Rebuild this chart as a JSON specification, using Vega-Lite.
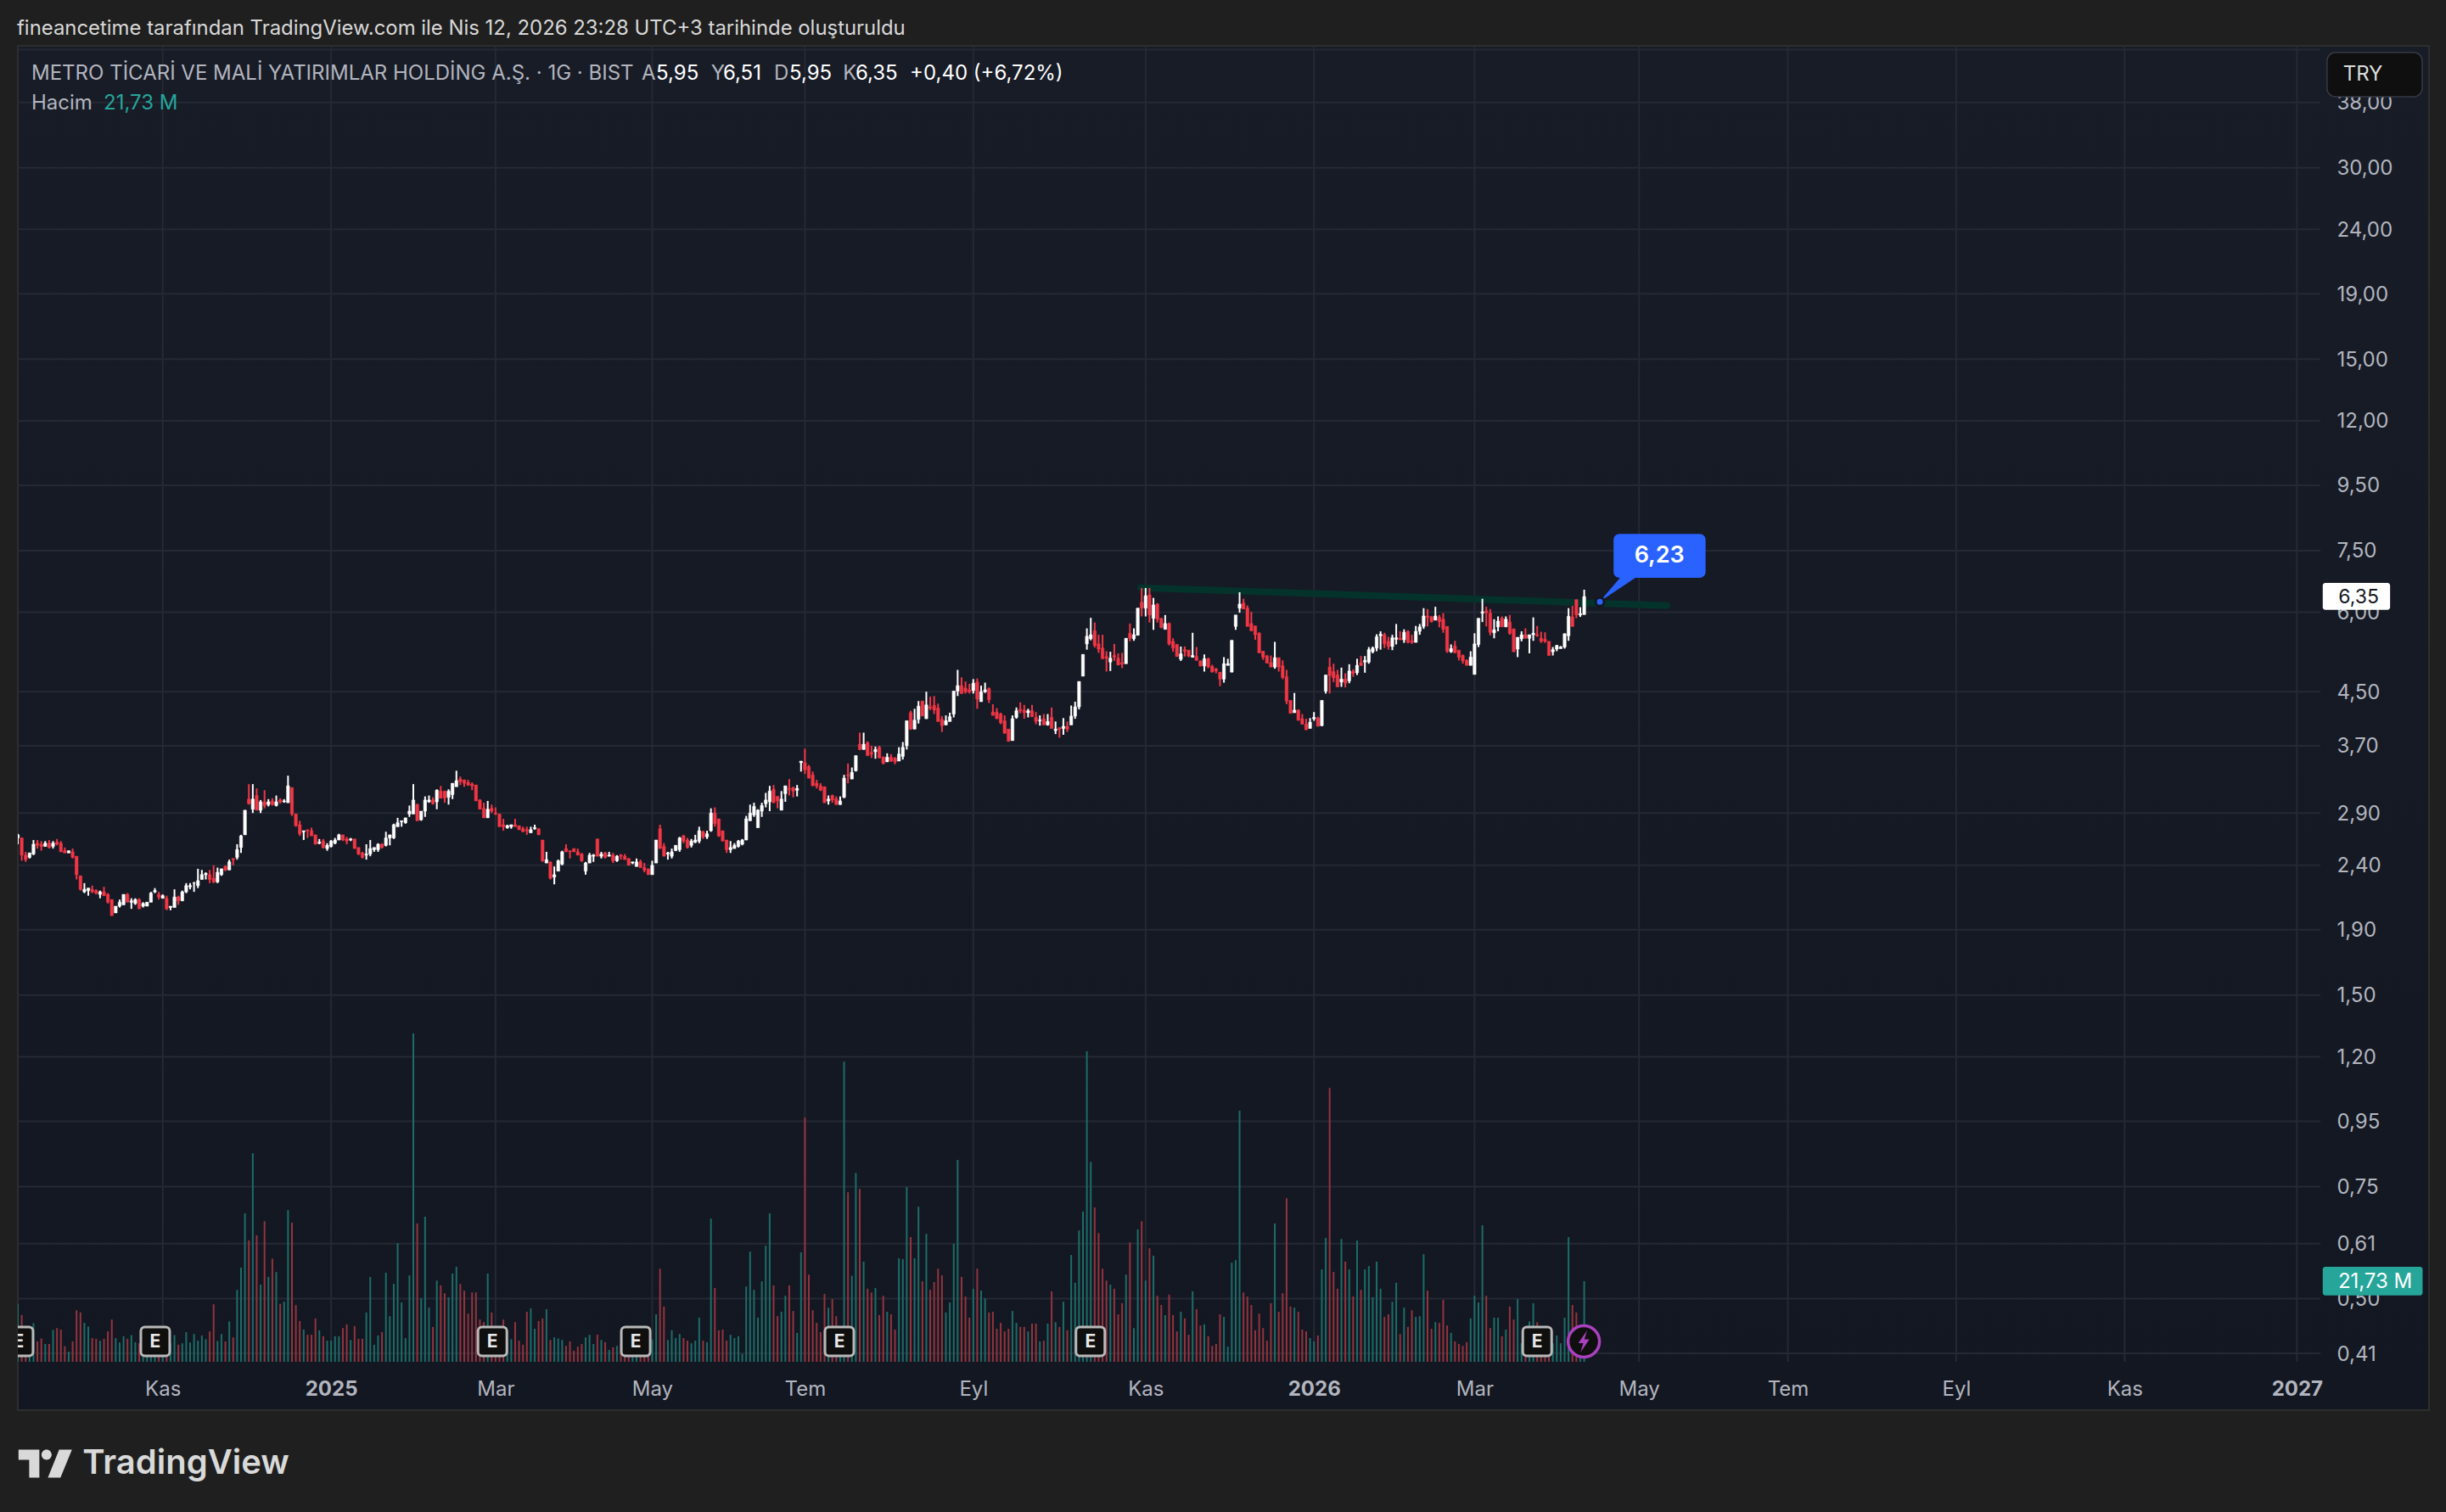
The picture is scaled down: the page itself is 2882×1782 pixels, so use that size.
{
"$schema":"https://vega.github.io/schema/vega-lite/v6.json",
"autosize":"none","width":2841,"height":1608,
"padding":{"left":21,"top":54,"right":20,"bottom":120},
"background":"#1f1f1f",
"config":{"view":{"fill":{"gradient":"linear","x1":0,"y1":0,"x2":0,"y2":1,"stops":[{"offset":0,"color":"#181c27"},{"offset":1,"color":"#131722"}]},"stroke":"#2e2e2e","strokeWidth":2},"font":"Inter"},
"title":{"text":"fineancetime tarafından TradingView.com ile Nis 12, 2026 23:28 UTC+3 tarihinde oluşturuldu","anchor":"start","frame":"group","offset":9,"dx":-1,"dy":7,"font":"Inter","fontSize":23.9,"fontWeight":"normal","color":"#d8d8d8"},
"datasets":{"bars":[
{"i":0,"o":2.65,"h":2.69,"l":2.59,"c":2.68,"v":15.6},{"i":1,"o":2.65,"h":2.65,"l":2.44,"c":2.49,"v":12.6},{"i":2,"o":2.49,"h":2.52,"l":2.43,"c":2.45,"v":6.1},{"i":3,"o":2.47,"h":2.51,"l":2.46,"c":2.51,"v":7.6},{"i":4,"o":2.5,"h":2.63,"l":2.49,"c":2.59,"v":10.4},{"i":5,"o":2.6,"h":2.63,"l":2.55,"c":2.58,"v":5.5},{"i":6,"o":2.59,"h":2.62,"l":2.53,"c":2.57,"v":6.3},{"i":7,"o":2.57,"h":2.62,"l":2.57,"c":2.6,"v":4.8},{"i":8,"o":2.6,"h":2.63,"l":2.55,"c":2.56,"v":4.8},{"i":9,"o":2.57,"h":2.62,"l":2.55,"c":2.6,"v":8.6},
{"i":10,"o":2.61,"h":2.64,"l":2.58,"c":2.59,"v":9.1},{"i":11,"o":2.6,"h":2.62,"l":2.52,"c":2.52,"v":8.7},{"i":12,"o":2.53,"h":2.56,"l":2.51,"c":2.51,"v":4.2},{"i":13,"o":2.51,"h":2.53,"l":2.51,"c":2.53,"v":2.7},{"i":14,"o":2.52,"h":2.55,"l":2.46,"c":2.47,"v":5.5},{"i":15,"o":2.48,"h":2.48,"l":2.28,"c":2.32,"v":13.9},{"i":16,"o":2.31,"h":2.31,"l":2.19,"c":2.2,"v":13.3},{"i":17,"o":2.18,"h":2.25,"l":2.17,"c":2.2,"v":10.5},{"i":18,"o":2.19,"h":2.21,"l":2.15,"c":2.21,"v":9.5},{"i":19,"o":2.2,"h":2.23,"l":2.17,"c":2.18,"v":6.4},
{"i":20,"o":2.19,"h":2.2,"l":2.16,"c":2.17,"v":6.2},{"i":21,"o":2.16,"h":2.19,"l":2.13,"c":2.18,"v":5.7},{"i":22,"o":2.18,"h":2.22,"l":2.15,"c":2.15,"v":6.2},{"i":23,"o":2.16,"h":2.17,"l":2.09,"c":2.1,"v":8.2},{"i":24,"o":2.12,"h":2.12,"l":2.0,"c":2.0,"v":11.4},{"i":25,"o":2.02,"h":2.07,"l":2.02,"c":2.07,"v":6.4},{"i":26,"o":2.07,"h":2.12,"l":2.06,"c":2.1,"v":5.2},{"i":27,"o":2.08,"h":2.16,"l":2.08,"c":2.16,"v":6.9},{"i":28,"o":2.16,"h":2.17,"l":2.1,"c":2.1,"v":6.2},{"i":29,"o":2.1,"h":2.13,"l":2.05,"c":2.11,"v":7.2},
{"i":30,"o":2.09,"h":2.13,"l":2.08,"c":2.12,"v":5.3},{"i":31,"o":2.12,"h":2.13,"l":2.05,"c":2.05,"v":5.0},{"i":32,"o":2.07,"h":2.1,"l":2.06,"c":2.09,"v":4},{"i":33,"o":2.07,"h":2.1,"l":2.07,"c":2.1,"v":4},{"i":34,"o":2.1,"h":2.18,"l":2.1,"c":2.17,"v":5},{"i":35,"o":2.18,"h":2.21,"l":2.17,"c":2.19,"v":5},{"i":36,"o":2.16,"h":2.18,"l":2.12,"c":2.14,"v":4},{"i":37,"o":2.13,"h":2.16,"l":2.13,"c":2.15,"v":4},{"i":38,"o":2.13,"h":2.15,"l":2.04,"c":2.05,"v":5},{"i":39,"o":2.06,"h":2.07,"l":2.04,"c":2.07,"v":5},
{"i":40,"o":2.06,"h":2.2,"l":2.06,"c":2.14,"v":7.2},{"i":41,"o":2.14,"h":2.15,"l":2.08,"c":2.11,"v":4.6},{"i":42,"o":2.11,"h":2.19,"l":2.11,"c":2.18,"v":5.0},{"i":43,"o":2.18,"h":2.25,"l":2.17,"c":2.23,"v":8.0},{"i":44,"o":2.22,"h":2.25,"l":2.2,"c":2.23,"v":5.2},{"i":45,"o":2.25,"h":2.26,"l":2.18,"c":2.25,"v":7.5},{"i":46,"o":2.23,"h":2.37,"l":2.21,"c":2.27,"v":5.7},{"i":47,"o":2.28,"h":2.36,"l":2.28,"c":2.32,"v":7.1},{"i":48,"o":2.32,"h":2.34,"l":2.28,"c":2.33,"v":6.1},{"i":49,"o":2.32,"h":2.36,"l":2.25,"c":2.28,"v":8.2},
{"i":50,"o":2.29,"h":2.4,"l":2.25,"c":2.26,"v":15.5},{"i":51,"o":2.26,"h":2.38,"l":2.25,"c":2.34,"v":5.6},{"i":52,"o":2.32,"h":2.37,"l":2.31,"c":2.37,"v":7.5},{"i":53,"o":2.39,"h":2.4,"l":2.35,"c":2.36,"v":5.5},{"i":54,"o":2.36,"h":2.45,"l":2.36,"c":2.43,"v":10.9},{"i":55,"o":2.46,"h":2.46,"l":2.4,"c":2.45,"v":6.6},{"i":56,"o":2.47,"h":2.59,"l":2.45,"c":2.54,"v":19.4},{"i":57,"o":2.56,"h":2.68,"l":2.51,"c":2.67,"v":25.4},{"i":58,"o":2.68,"h":2.93,"l":2.68,"c":2.93,"v":40.0},{"i":59,"o":3.05,"h":3.22,"l":2.99,"c":3.0,"v":32.7},
{"i":60,"o":2.94,"h":3.22,"l":2.9,"c":3.05,"v":56.2},{"i":61,"o":3.09,"h":3.17,"l":2.93,"c":2.93,"v":34.1},{"i":62,"o":2.93,"h":3.04,"l":2.9,"c":3.02,"v":20.8},{"i":63,"o":3.02,"h":3.15,"l":2.95,"c":2.98,"v":37.9},{"i":64,"o":2.99,"h":3.05,"l":2.97,"c":3.02,"v":22.9},{"i":65,"o":3.03,"h":3.06,"l":2.98,"c":2.99,"v":27.8},{"i":66,"o":2.98,"h":3.09,"l":2.97,"c":3.02,"v":24.2},{"i":67,"o":3.04,"h":3.06,"l":3.0,"c":3.02,"v":15.6},{"i":68,"o":3.02,"h":3.05,"l":3.01,"c":3.03,"v":16.2},{"i":69,"o":3.01,"h":3.32,"l":3.01,"c":3.2,"v":40.9},
{"i":70,"o":3.18,"h":3.18,"l":2.87,"c":2.89,"v":37.5},{"i":71,"o":2.89,"h":2.89,"l":2.76,"c":2.77,"v":15.3},{"i":72,"o":2.78,"h":2.82,"l":2.67,"c":2.69,"v":11.0},{"i":73,"o":2.71,"h":2.72,"l":2.63,"c":2.72,"v":8.7},{"i":74,"o":2.73,"h":2.73,"l":2.65,"c":2.72,"v":7.3},{"i":75,"o":2.72,"h":2.75,"l":2.67,"c":2.67,"v":7.3},{"i":76,"o":2.68,"h":2.68,"l":2.59,"c":2.59,"v":11.7},{"i":77,"o":2.6,"h":2.64,"l":2.59,"c":2.61,"v":8.5},{"i":78,"o":2.62,"h":2.64,"l":2.55,"c":2.56,"v":6.9},{"i":79,"o":2.55,"h":2.6,"l":2.53,"c":2.58,"v":5.7},
{"i":80,"o":2.57,"h":2.63,"l":2.56,"c":2.62,"v":5.7},{"i":81,"o":2.6,"h":2.65,"l":2.59,"c":2.63,"v":6.9},{"i":82,"o":2.63,"h":2.69,"l":2.63,"c":2.68,"v":6.9},{"i":83,"o":2.68,"h":2.68,"l":2.62,"c":2.63,"v":9.1},{"i":84,"o":2.64,"h":2.66,"l":2.59,"c":2.62,"v":10.1},{"i":85,"o":2.63,"h":2.65,"l":2.62,"c":2.64,"v":5.9},{"i":86,"o":2.64,"h":2.64,"l":2.55,"c":2.55,"v":9.6},{"i":87,"o":2.56,"h":2.56,"l":2.49,"c":2.5,"v":6.2},{"i":88,"o":2.51,"h":2.52,"l":2.46,"c":2.47,"v":6.2},{"i":89,"o":2.49,"h":2.59,"l":2.45,"c":2.5,"v":13.3},
{"i":90,"o":2.5,"h":2.63,"l":2.48,"c":2.55,"v":22.9},{"i":91,"o":2.54,"h":2.56,"l":2.52,"c":2.56,"v":4.6},{"i":92,"o":2.54,"h":2.6,"l":2.52,"c":2.59,"v":7.1},{"i":93,"o":2.59,"h":2.6,"l":2.55,"c":2.56,"v":8.0},{"i":94,"o":2.58,"h":2.71,"l":2.57,"c":2.65,"v":24.0},{"i":95,"o":2.65,"h":2.68,"l":2.58,"c":2.68,"v":12.3},{"i":96,"o":2.65,"h":2.79,"l":2.64,"c":2.78,"v":21.0},{"i":97,"o":2.76,"h":2.85,"l":2.76,"c":2.8,"v":32.0},{"i":98,"o":2.81,"h":2.82,"l":2.76,"c":2.82,"v":16.0},{"i":99,"o":2.8,"h":2.85,"l":2.79,"c":2.85,"v":6.4},
{"i":100,"o":2.89,"h":2.98,"l":2.86,"c":2.92,"v":23.3},{"i":101,"o":2.89,"h":3.22,"l":2.89,"c":3.04,"v":88.5},{"i":102,"o":2.99,"h":3.0,"l":2.82,"c":2.82,"v":37.3},{"i":103,"o":2.83,"h":2.92,"l":2.82,"c":2.92,"v":17.1},{"i":104,"o":2.92,"h":3.08,"l":2.86,"c":3.04,"v":39.1},{"i":105,"o":3.02,"h":3.09,"l":3.01,"c":3.04,"v":14.6},{"i":106,"o":3.04,"h":3.07,"l":2.99,"c":3.0,"v":9.4},{"i":107,"o":3.02,"h":3.16,"l":2.94,"c":3.15,"v":21.9},{"i":108,"o":3.14,"h":3.2,"l":3.06,"c":3.06,"v":20.6},{"i":109,"o":3.14,"h":3.14,"l":3.01,"c":3.06,"v":18.5},
{"i":110,"o":3.07,"h":3.16,"l":2.99,"c":3.14,"v":17.4},{"i":111,"o":3.1,"h":3.23,"l":3.05,"c":3.23,"v":23.8},{"i":112,"o":3.19,"h":3.38,"l":3.19,"c":3.26,"v":25.6},{"i":113,"o":3.28,"h":3.31,"l":3.21,"c":3.25,"v":21.0},{"i":114,"o":3.27,"h":3.27,"l":3.19,"c":3.23,"v":19.2},{"i":115,"o":3.24,"h":3.27,"l":3.2,"c":3.21,"v":13.0},{"i":116,"o":3.22,"h":3.24,"l":3.15,"c":3.2,"v":18.7},{"i":117,"o":3.21,"h":3.21,"l":3.03,"c":3.03,"v":18.7},{"i":118,"o":3.04,"h":3.05,"l":2.94,"c":2.94,"v":11.4},{"i":119,"o":2.95,"h":3.01,"l":2.85,"c":2.85,"v":10.7},
{"i":120,"o":2.85,"h":3.03,"l":2.85,"c":2.94,"v":23.8},{"i":121,"o":2.95,"h":2.99,"l":2.9,"c":2.92,"v":13.3},{"i":122,"o":2.9,"h":2.96,"l":2.88,"c":2.89,"v":8},{"i":123,"o":2.89,"h":2.89,"l":2.76,"c":2.76,"v":8},{"i":124,"o":2.78,"h":2.84,"l":2.72,"c":2.76,"v":11.4},{"i":125,"o":2.75,"h":2.78,"l":2.74,"c":2.77,"v":6},{"i":126,"o":2.76,"h":2.78,"l":2.74,"c":2.78,"v":6.1},{"i":127,"o":2.78,"h":2.84,"l":2.76,"c":2.76,"v":10.7},{"i":128,"o":2.77,"h":2.77,"l":2.73,"c":2.73,"v":5.7},{"i":129,"o":2.74,"h":2.76,"l":2.71,"c":2.71,"v":4.6},
{"i":130,"o":2.73,"h":2.76,"l":2.68,"c":2.72,"v":13.5},{"i":131,"o":2.7,"h":2.76,"l":2.7,"c":2.73,"v":14.4},{"i":132,"o":2.74,"h":2.78,"l":2.73,"c":2.75,"v":8.9},{"i":133,"o":2.74,"h":2.74,"l":2.68,"c":2.68,"v":11.0},{"i":134,"o":2.63,"h":2.63,"l":2.43,"c":2.44,"v":11.7},{"i":135,"o":2.42,"h":2.52,"l":2.42,"c":2.45,"v":14.2},{"i":136,"o":2.43,"h":2.43,"l":2.28,"c":2.29,"v":5.9},{"i":137,"o":2.3,"h":2.39,"l":2.24,"c":2.32,"v":6.6},{"i":138,"o":2.35,"h":2.45,"l":2.35,"c":2.44,"v":6.3},{"i":139,"o":2.41,"h":2.53,"l":2.4,"c":2.52,"v":5.9},
{"i":140,"o":2.55,"h":2.59,"l":2.52,"c":2.52,"v":4.3},{"i":141,"o":2.53,"h":2.53,"l":2.46,"c":2.52,"v":5.5},{"i":142,"o":2.55,"h":2.55,"l":2.52,"c":2.52,"v":3.0},{"i":143,"o":2.52,"h":2.55,"l":2.49,"c":2.49,"v":4.1},{"i":144,"o":2.5,"h":2.51,"l":2.43,"c":2.44,"v":4.8},{"i":145,"o":2.35,"h":2.43,"l":2.32,"c":2.42,"v":6.6},{"i":146,"o":2.42,"h":2.51,"l":2.42,"c":2.49,"v":7.3},{"i":147,"o":2.48,"h":2.5,"l":2.43,"c":2.49,"v":4.8},{"i":148,"o":2.64,"h":2.64,"l":2.48,"c":2.48,"v":7.3},{"i":149,"o":2.48,"h":2.52,"l":2.46,"c":2.5,"v":5.9},
{"i":150,"o":2.51,"h":2.52,"l":2.46,"c":2.47,"v":5.3},{"i":151,"o":2.48,"h":2.52,"l":2.48,"c":2.49,"v":3.2},{"i":152,"o":2.49,"h":2.51,"l":2.42,"c":2.44,"v":3.9},{"i":153,"o":2.44,"h":2.49,"l":2.43,"c":2.48,"v":4.3},{"i":154,"o":2.49,"h":2.5,"l":2.45,"c":2.48,"v":5},{"i":155,"o":2.48,"h":2.5,"l":2.45,"c":2.45,"v":5},{"i":156,"o":2.46,"h":2.46,"l":2.4,"c":2.4,"v":4},{"i":157,"o":2.42,"h":2.43,"l":2.41,"c":2.43,"v":4},{"i":158,"o":2.39,"h":2.46,"l":2.39,"c":2.43,"v":4},{"i":159,"o":2.43,"h":2.45,"l":2.38,"c":2.38,"v":4},
{"i":160,"o":2.38,"h":2.42,"l":2.34,"c":2.36,"v":4},{"i":161,"o":2.37,"h":2.37,"l":2.32,"c":2.32,"v":5},{"i":162,"o":2.32,"h":2.44,"l":2.32,"c":2.4,"v":6},{"i":163,"o":2.42,"h":2.63,"l":2.42,"c":2.63,"v":12.8},{"i":164,"o":2.74,"h":2.78,"l":2.55,"c":2.55,"v":25.1},{"i":165,"o":2.57,"h":2.6,"l":2.48,"c":2.48,"v":14.9},{"i":166,"o":2.5,"h":2.52,"l":2.45,"c":2.51,"v":5.9},{"i":167,"o":2.48,"h":2.55,"l":2.46,"c":2.52,"v":8.5},{"i":168,"o":2.53,"h":2.58,"l":2.53,"c":2.58,"v":6.4},{"i":169,"o":2.54,"h":2.66,"l":2.52,"c":2.65,"v":7.5},
{"i":170,"o":2.67,"h":2.68,"l":2.6,"c":2.62,"v":6.4},{"i":171,"o":2.63,"h":2.65,"l":2.55,"c":2.56,"v":5.7},{"i":172,"o":2.58,"h":2.64,"l":2.56,"c":2.62,"v":5.0},{"i":173,"o":2.61,"h":2.68,"l":2.6,"c":2.63,"v":5.7},{"i":174,"o":2.62,"h":2.76,"l":2.6,"c":2.72,"v":11.9},{"i":175,"o":2.71,"h":2.72,"l":2.64,"c":2.66,"v":5.7},{"i":176,"o":2.66,"h":2.72,"l":2.64,"c":2.69,"v":5.3},{"i":177,"o":2.72,"h":2.95,"l":2.71,"c":2.9,"v":38.6},{"i":178,"o":2.9,"h":2.96,"l":2.76,"c":2.79,"v":19.9},{"i":179,"o":2.84,"h":2.84,"l":2.66,"c":2.67,"v":8.5},
{"i":180,"o":2.72,"h":2.72,"l":2.62,"c":2.62,"v":8.7},{"i":181,"o":2.63,"h":2.63,"l":2.51,"c":2.54,"v":5.7},{"i":182,"o":2.54,"h":2.62,"l":2.51,"c":2.56,"v":7.3},{"i":183,"o":2.55,"h":2.6,"l":2.55,"c":2.58,"v":6.4},{"i":184,"o":2.57,"h":2.63,"l":2.56,"c":2.62,"v":6.9},{"i":185,"o":2.59,"h":2.64,"l":2.58,"c":2.63,"v":2.1},{"i":186,"o":2.63,"h":2.87,"l":2.63,"c":2.84,"v":20.3},{"i":187,"o":2.82,"h":2.99,"l":2.82,"c":2.9,"v":29.7},{"i":188,"o":2.88,"h":3.01,"l":2.86,"c":2.97,"v":19.4},{"i":189,"o":2.75,"h":2.94,"l":2.75,"c":2.93,"v":11.9},
{"i":190,"o":2.92,"h":3.01,"l":2.86,"c":2.98,"v":21.7},{"i":191,"o":3.0,"h":3.12,"l":2.96,"c":3.04,"v":31.3},{"i":192,"o":3.02,"h":3.2,"l":2.92,"c":3.14,"v":40.0},{"i":193,"o":3.16,"h":3.21,"l":3.01,"c":3.01,"v":20.6},{"i":194,"o":3.08,"h":3.08,"l":2.95,"c":3.03,"v":12.3},{"i":195,"o":2.93,"h":3.14,"l":2.93,"c":3.05,"v":13.5},{"i":196,"o":3.11,"h":3.2,"l":3.02,"c":3.2,"v":17.8},{"i":197,"o":3.17,"h":3.28,"l":3.09,"c":3.16,"v":20.6},{"i":198,"o":3.18,"h":3.19,"l":3.07,"c":3.14,"v":13.7},{"i":199,"o":3.15,"h":3.21,"l":3.08,"c":3.17,"v":7.8},
{"i":200,"o":3.48,"h":3.5,"l":3.37,"c":3.5,"v":29.5},{"i":201,"o":3.48,"h":3.66,"l":3.34,"c":3.39,"v":65.8},{"i":202,"o":3.43,"h":3.45,"l":3.29,"c":3.29,"v":23.5},{"i":203,"o":3.33,"h":3.37,"l":3.2,"c":3.2,"v":13.9},{"i":204,"o":3.23,"h":3.27,"l":3.17,"c":3.2,"v":10.5},{"i":205,"o":3.2,"h":3.23,"l":3.14,"c":3.15,"v":8.0},{"i":206,"o":3.19,"h":3.19,"l":3.01,"c":3.01,"v":18.3},{"i":207,"o":3.03,"h":3.09,"l":2.99,"c":3.05,"v":14.6},{"i":208,"o":3.09,"h":3.1,"l":3.01,"c":3.04,"v":16.9},{"i":209,"o":3.05,"h":3.08,"l":2.99,"c":2.99,"v":12.3},
{"i":210,"o":2.99,"h":3.08,"l":2.99,"c":3.03,"v":9.5},{"i":211,"o":3.07,"h":3.33,"l":3.06,"c":3.29,"v":80.9},{"i":212,"o":3.33,"h":3.47,"l":3.23,"c":3.32,"v":45.7},{"i":213,"o":3.28,"h":3.42,"l":3.28,"c":3.36,"v":23.2},{"i":214,"o":3.38,"h":3.57,"l":3.37,"c":3.57,"v":50.9},{"i":215,"o":3.72,"h":3.88,"l":3.64,"c":3.65,"v":46.6},{"i":216,"o":3.65,"h":3.88,"l":3.65,"c":3.72,"v":27.0},{"i":217,"o":3.74,"h":3.76,"l":3.57,"c":3.57,"v":19.7},{"i":218,"o":3.61,"h":3.7,"l":3.54,"c":3.59,"v":18.7},{"i":219,"o":3.62,"h":3.69,"l":3.53,"c":3.65,"v":19.9},
{"i":220,"o":3.68,"h":3.7,"l":3.54,"c":3.54,"v":12.6},{"i":221,"o":3.55,"h":3.56,"l":3.46,"c":3.47,"v":17.8},{"i":222,"o":3.49,"h":3.6,"l":3.49,"c":3.55,"v":13.5},{"i":223,"o":3.55,"h":3.59,"l":3.49,"c":3.5,"v":12.8},{"i":224,"o":3.54,"h":3.55,"l":3.46,"c":3.49,"v":8.7},{"i":225,"o":3.5,"h":3.68,"l":3.5,"c":3.59,"v":27.9},{"i":226,"o":3.56,"h":3.75,"l":3.52,"c":3.68,"v":27.7},{"i":227,"o":3.7,"h":4.05,"l":3.65,"c":4.05,"v":47.1},{"i":228,"o":4.17,"h":4.2,"l":3.92,"c":3.93,"v":33.6},{"i":229,"o":3.93,"h":4.23,"l":3.93,"c":4.06,"v":27.9},
{"i":230,"o":4.07,"h":4.35,"l":4.01,"c":4.27,"v":41.8},{"i":231,"o":4.35,"h":4.35,"l":4.12,"c":4.12,"v":21.7},{"i":232,"o":4.08,"h":4.5,"l":4.08,"c":4.29,"v":34.5},{"i":233,"o":4.26,"h":4.42,"l":4.21,"c":4.24,"v":19.4},{"i":234,"o":4.28,"h":4.43,"l":4.15,"c":4.21,"v":21.5},{"i":235,"o":4.24,"h":4.31,"l":4.04,"c":4.04,"v":25.1},{"i":236,"o":4.07,"h":4.12,"l":3.89,"c":3.98,"v":23.3},{"i":237,"o":3.99,"h":4.13,"l":3.99,"c":4.05,"v":13.3},{"i":238,"o":4.04,"h":4.17,"l":4.04,"c":4.11,"v":16.0},{"i":239,"o":4.15,"h":4.51,"l":4.1,"c":4.51,"v":31.8},
{"i":240,"o":4.51,"h":4.87,"l":4.43,"c":4.6,"v":54.4},{"i":241,"o":4.6,"h":4.74,"l":4.47,"c":4.47,"v":22.9},{"i":242,"o":4.56,"h":4.67,"l":4.47,"c":4.5,"v":17.6},{"i":243,"o":4.53,"h":4.63,"l":4.47,"c":4.5,"v":11.9},{"i":244,"o":4.52,"h":4.71,"l":4.47,"c":4.64,"v":19.7},{"i":245,"o":4.66,"h":4.72,"l":4.23,"c":4.38,"v":25.1},{"i":246,"o":4.34,"h":4.6,"l":4.34,"c":4.5,"v":19.2},{"i":247,"o":4.5,"h":4.65,"l":4.48,"c":4.53,"v":17.1},{"i":248,"o":4.55,"h":4.57,"l":4.32,"c":4.37,"v":13.3},{"i":249,"o":4.18,"h":4.3,"l":4.13,"c":4.13,"v":13.5},
{"i":250,"o":4.18,"h":4.24,"l":4.08,"c":4.08,"v":8.9},{"i":251,"o":4.15,"h":4.17,"l":4.0,"c":4.02,"v":10.5},{"i":252,"o":4.05,"h":4.13,"l":3.87,"c":3.87,"v":8.2},{"i":253,"o":3.93,"h":3.93,"l":3.76,"c":3.76,"v":8.9},{"i":254,"o":3.77,"h":4.13,"l":3.77,"c":4.08,"v":13.7},{"i":255,"o":4.1,"h":4.25,"l":4.08,"c":4.2,"v":10.5},{"i":256,"o":4.22,"h":4.33,"l":4.16,"c":4.2,"v":9.4},{"i":257,"o":4.21,"h":4.29,"l":4.08,"c":4.17,"v":9.4},{"i":258,"o":4.17,"h":4.23,"l":4.1,"c":4.2,"v":8.2},{"i":259,"o":4.2,"h":4.29,"l":4.11,"c":4.11,"v":10.3},
{"i":260,"o":4.1,"h":4.18,"l":4.0,"c":4.04,"v":10.3},{"i":261,"o":4.05,"h":4.13,"l":3.98,"c":4.06,"v":5.5},{"i":262,"o":4.08,"h":4.15,"l":3.99,"c":3.99,"v":5.7},{"i":263,"o":3.99,"h":4.15,"l":3.98,"c":4.04,"v":10.3},{"i":264,"o":4.1,"h":4.25,"l":3.94,"c":3.94,"v":19.0},{"i":265,"o":3.91,"h":4.04,"l":3.86,"c":3.93,"v":10.7},{"i":266,"o":3.95,"h":3.95,"l":3.81,"c":3.93,"v":9.4},{"i":267,"o":3.94,"h":4.09,"l":3.85,"c":3.97,"v":16.2},{"i":268,"o":3.97,"h":4.04,"l":3.89,"c":3.93,"v":8.5},{"i":269,"o":3.99,"h":4.28,"l":3.99,"c":4.12,"v":28.8},
{"i":270,"o":4.12,"h":4.34,"l":4.08,"c":4.26,"v":21.3},{"i":271,"o":4.26,"h":4.67,"l":4.22,"c":4.67,"v":35.4},{"i":272,"o":4.76,"h":5.15,"l":4.76,"c":5.15,"v":40.5},{"i":273,"o":5.35,"h":5.66,"l":5.24,"c":5.5,"v":83.7},{"i":274,"o":5.45,"h":5.88,"l":5.42,"c":5.53,"v":53.9},{"i":275,"o":5.61,"h":5.78,"l":5.28,"c":5.32,"v":41.6},{"i":276,"o":5.35,"h":5.53,"l":5.18,"c":5.25,"v":34.7},{"i":277,"o":5.27,"h":5.53,"l":5.07,"c":5.07,"v":25.1},{"i":278,"o":5.11,"h":5.21,"l":4.84,"c":5.08,"v":21.9},{"i":279,"o":5.01,"h":5.2,"l":4.85,"c":5.08,"v":20.8},
{"i":280,"o":5.13,"h":5.35,"l":5.03,"c":5.1,"v":19.7},{"i":281,"o":5.08,"h":5.17,"l":4.95,"c":4.96,"v":12.8},{"i":282,"o":5.0,"h":5.18,"l":4.9,"c":4.97,"v":15.8},{"i":283,"o":4.98,"h":5.46,"l":4.98,"c":5.46,"v":23.5},{"i":284,"o":5.56,"h":5.76,"l":5.4,"c":5.46,"v":32.2},{"i":285,"o":5.45,"h":5.66,"l":5.41,"c":5.53,"v":9.1},{"i":286,"o":5.52,"h":6.09,"l":5.52,"c":6.09,"v":35.7},{"i":287,"o":6.22,"h":6.55,"l":5.91,"c":6.09,"v":37.9},{"i":288,"o":6.09,"h":6.55,"l":5.91,"c":6.37,"v":21.9},{"i":289,"o":6.39,"h":6.55,"l":5.78,"c":5.94,"v":30.6},
{"i":290,"o":5.87,"h":6.32,"l":5.63,"c":6.16,"v":28.6},{"i":291,"o":6.18,"h":6.2,"l":5.78,"c":5.85,"v":17.8},{"i":292,"o":5.87,"h":5.87,"l":5.66,"c":5.68,"v":15.3},{"i":293,"o":5.64,"h":5.94,"l":5.64,"c":5.76,"v":12.6},{"i":294,"o":5.76,"h":5.78,"l":5.32,"c":5.35,"v":18.1},{"i":295,"o":5.4,"h":5.46,"l":5.2,"c":5.27,"v":12.6},{"i":296,"o":5.34,"h":5.34,"l":5.11,"c":5.11,"v":8.2},{"i":297,"o":5.06,"h":5.3,"l":5.03,"c":5.16,"v":13.5},{"i":298,"o":5.24,"h":5.3,"l":5.11,"c":5.21,"v":11.7},{"i":299,"o":5.23,"h":5.23,"l":5.1,"c":5.12,"v":7.3},
{"i":300,"o":5.1,"h":5.57,"l":5.09,"c":5.13,"v":19.0},{"i":301,"o":5.11,"h":5.29,"l":5.04,"c":5.04,"v":14.2},{"i":302,"o":5.03,"h":5.04,"l":4.93,"c":4.94,"v":9.8},{"i":303,"o":4.94,"h":5.15,"l":4.84,"c":5.07,"v":10.1},{"i":304,"o":5.07,"h":5.09,"l":4.9,"c":4.92,"v":6.9},{"i":305,"o":4.93,"h":4.96,"l":4.83,"c":4.83,"v":4.3},{"i":306,"o":4.89,"h":4.9,"l":4.81,"c":4.85,"v":4.8},{"i":307,"o":4.83,"h":4.83,"l":4.59,"c":4.71,"v":12.8},{"i":308,"o":4.71,"h":5.1,"l":4.65,"c":4.98,"v":12.1},{"i":309,"o":4.95,"h":5.07,"l":4.95,"c":4.98,"v":4.1},
{"i":310,"o":4.83,"h":5.42,"l":4.83,"c":5.42,"v":26.7},{"i":311,"o":5.7,"h":5.94,"l":5.63,"c":5.94,"v":27.4},{"i":312,"o":6.09,"h":6.45,"l":5.99,"c":6.18,"v":67.7},{"i":313,"o":6.2,"h":6.3,"l":6.07,"c":6.07,"v":18.7},{"i":314,"o":6.09,"h":6.15,"l":5.7,"c":5.7,"v":17.6},{"i":315,"o":5.76,"h":6.01,"l":5.6,"c":5.61,"v":15.3},{"i":316,"o":5.71,"h":5.71,"l":5.43,"c":5.53,"v":8.5},{"i":317,"o":5.56,"h":5.58,"l":5.18,"c":5.18,"v":13.0},{"i":318,"o":5.21,"h":5.21,"l":5.05,"c":5.1,"v":9.1},{"i":319,"o":5.12,"h":5.14,"l":4.99,"c":4.99,"v":5.7},
{"i":320,"o":5.0,"h":5.13,"l":4.92,"c":4.92,"v":15.8},{"i":321,"o":4.92,"h":5.39,"l":4.89,"c":5.09,"v":37.3},{"i":322,"o":5.09,"h":5.09,"l":4.84,"c":4.92,"v":13.5},{"i":323,"o":4.94,"h":5.04,"l":4.71,"c":4.74,"v":18.5},{"i":324,"o":4.75,"h":4.87,"l":4.3,"c":4.35,"v":44.1},{"i":325,"o":4.36,"h":4.36,"l":4.16,"c":4.16,"v":14.9},{"i":326,"o":4.17,"h":4.48,"l":4.17,"c":4.21,"v":14.6},{"i":327,"o":4.21,"h":4.22,"l":4.05,"c":4.06,"v":13.5},{"i":328,"o":4.08,"h":4.15,"l":4.0,"c":4.0,"v":8.7},{"i":329,"o":4.0,"h":4.08,"l":3.92,"c":3.92,"v":8.2},
{"i":330,"o":3.94,"h":4.09,"l":3.94,"c":4.03,"v":6.4},{"i":331,"o":4.08,"h":4.18,"l":4.05,"c":4.1,"v":5.5},{"i":332,"o":4.09,"h":4.11,"l":3.97,"c":3.97,"v":7.1},{"i":333,"o":3.98,"h":4.36,"l":3.97,"c":4.36,"v":24.9},{"i":334,"o":4.51,"h":4.78,"l":4.47,"c":4.78,"v":33.4},{"i":335,"o":4.92,"h":5.09,"l":4.47,"c":4.77,"v":73.8},{"i":336,"o":4.84,"h":4.98,"l":4.66,"c":4.73,"v":24.2},{"i":337,"o":4.78,"h":4.87,"l":4.58,"c":4.58,"v":19.7},{"i":338,"o":4.66,"h":4.91,"l":4.58,"c":4.71,"v":33.1},{"i":339,"o":4.71,"h":4.81,"l":4.57,"c":4.64,"v":27.0},
{"i":340,"o":4.68,"h":4.97,"l":4.64,"c":4.85,"v":24.9},{"i":341,"o":4.84,"h":4.88,"l":4.75,"c":4.81,"v":17.6},{"i":342,"o":4.82,"h":5.07,"l":4.78,"c":4.95,"v":32.7},{"i":343,"o":5.0,"h":5.12,"l":4.94,"c":4.95,"v":19.4},{"i":344,"o":5.01,"h":5.12,"l":4.82,"c":5.04,"v":24.9},{"i":345,"o":5.01,"h":5.29,"l":4.98,"c":5.24,"v":25.8},{"i":346,"o":5.2,"h":5.3,"l":5.17,"c":5.27,"v":17.4},{"i":347,"o":5.27,"h":5.54,"l":5.21,"c":5.49,"v":27.0},{"i":348,"o":5.51,"h":5.6,"l":5.24,"c":5.54,"v":19.7},{"i":349,"o":5.53,"h":5.57,"l":5.27,"c":5.35,"v":12.1},
{"i":350,"o":5.4,"h":5.49,"l":5.24,"c":5.3,"v":12.8},{"i":351,"o":5.3,"h":5.53,"l":5.23,"c":5.47,"v":16.2},{"i":352,"o":5.44,"h":5.75,"l":5.34,"c":5.47,"v":21.3},{"i":353,"o":5.46,"h":5.6,"l":5.43,"c":5.43,"v":7.5},{"i":354,"o":5.43,"h":5.64,"l":5.37,"c":5.58,"v":14.6},{"i":355,"o":5.6,"h":5.62,"l":5.36,"c":5.38,"v":9.4},{"i":356,"o":5.41,"h":5.53,"l":5.35,"c":5.38,"v":13.9},{"i":357,"o":5.38,"h":5.71,"l":5.38,"c":5.6,"v":12.1},{"i":358,"o":5.6,"h":5.75,"l":5.53,"c":5.69,"v":12.3},{"i":359,"o":5.7,"h":6.09,"l":5.65,"c":5.92,"v":29.0},
{"i":360,"o":5.92,"h":6.07,"l":5.7,"c":5.89,"v":19.2},{"i":361,"o":5.9,"h":5.92,"l":5.78,"c":5.8,"v":8.9},{"i":362,"o":5.83,"h":6.12,"l":5.83,"c":5.92,"v":10.7},{"i":363,"o":5.89,"h":5.94,"l":5.68,"c":5.8,"v":10.5},{"i":364,"o":5.85,"h":5.98,"l":5.57,"c":5.64,"v":16.7},{"i":365,"o":5.7,"h":5.7,"l":5.18,"c":5.21,"v":9.8},{"i":366,"o":5.2,"h":5.34,"l":5.18,"c":5.26,"v":7.8},{"i":367,"o":5.31,"h":5.41,"l":5.18,"c":5.18,"v":5.5},{"i":368,"o":5.23,"h":5.23,"l":5.04,"c":5.1,"v":4.8},{"i":369,"o":5.13,"h":5.15,"l":4.98,"c":5.03,"v":4.3},
{"i":370,"o":5.04,"h":5.06,"l":4.95,"c":4.95,"v":5.3},{"i":371,"o":4.95,"h":5.21,"l":4.95,"c":5.1,"v":11.7},{"i":372,"o":4.79,"h":5.56,"l":4.79,"c":5.35,"v":17.8},{"i":373,"o":5.34,"h":5.87,"l":5.29,"c":5.87,"v":16.0},{"i":374,"o":5.98,"h":6.3,"l":5.79,"c":6.01,"v":36.8},{"i":375,"o":6.03,"h":6.12,"l":5.7,"c":5.99,"v":17.8},{"i":376,"o":5.98,"h":6.07,"l":5.52,"c":5.58,"v":9.1},{"i":377,"o":5.57,"h":5.85,"l":5.46,"c":5.63,"v":11.9},{"i":378,"o":5.69,"h":5.91,"l":5.6,"c":5.81,"v":11.9},{"i":379,"o":5.87,"h":5.91,"l":5.69,"c":5.69,"v":6.9},
{"i":380,"o":5.69,"h":5.91,"l":5.69,"c":5.85,"v":8.7},{"i":381,"o":5.79,"h":5.94,"l":5.53,"c":5.56,"v":14.9},{"i":382,"o":5.65,"h":5.65,"l":5.2,"c":5.2,"v":11.4},{"i":383,"o":5.25,"h":5.48,"l":5.1,"c":5.48,"v":16.9},{"i":384,"o":5.45,"h":5.6,"l":5.4,"c":5.53,"v":5},{"i":385,"o":5.53,"h":5.66,"l":5.46,"c":5.46,"v":6},{"i":386,"o":5.46,"h":5.53,"l":5.17,"c":5.53,"v":10.9},{"i":387,"o":5.53,"h":5.89,"l":5.41,"c":5.56,"v":15.8},{"i":388,"o":5.53,"h":5.71,"l":5.49,"c":5.51,"v":10.7},{"i":389,"o":5.46,"h":5.59,"l":5.37,"c":5.4,"v":6},
{"i":390,"o":5.44,"h":5.58,"l":5.37,"c":5.4,"v":6},{"i":391,"o":5.4,"h":5.4,"l":5.13,"c":5.13,"v":6},{"i":392,"o":5.2,"h":5.29,"l":5.13,"c":5.24,"v":5},{"i":393,"o":5.25,"h":5.33,"l":5.21,"c":5.32,"v":7.1},{"i":394,"o":5.26,"h":5.31,"l":5.26,"c":5.29,"v":5},{"i":395,"o":5.29,"h":5.56,"l":5.26,"c":5.55,"v":11.9},{"i":396,"o":5.51,"h":6.09,"l":5.41,"c":5.91,"v":33.6},{"i":397,"o":5.9,"h":6.14,"l":5.7,"c":5.7,"v":15.3},{"i":398,"o":6.28,"h":6.28,"l":5.87,"c":5.94,"v":13.3},{"i":399,"o":5.94,"h":6.11,"l":5.9,"c":5.97,"v":8.4},
{"i":400,"o":5.95,"h":6.51,"l":5.95,"c":6.35,"v":21.73}
],
"labels":[
{"i":3.47,"p":42.28,"kind":"name","label":"METRO TİCARİ VE MALİ YATIRIMLAR HOLDİNG A.Ş. · 1G · BIST"},
{"i":159.3,"p":42.28,"kind":"name","label":"A"},{"i":163,"p":42.28,"kind":"value","label":"5,95"},
{"i":177,"p":42.28,"kind":"name","label":"Y"},{"i":180.1,"p":42.28,"kind":"value","label":"6,51"},
{"i":193.1,"p":42.28,"kind":"name","label":"D"},{"i":197,"p":42.28,"kind":"value","label":"5,95"},
{"i":210.7,"p":42.28,"kind":"name","label":"K"},{"i":213.9,"p":42.28,"kind":"value","label":"6,35"},
{"i":227.8,"p":42.28,"kind":"value","label":"+0,40 (+6,72%)"},
{"i":3.47,"p":37.97,"kind":"name","label":"Hacim"},{"i":21.9,"p":37.97,"kind":"volume","label":"21,73 M"},
{"i":593.8,"p":42.2,"kind":"try","label":"TRY"}
],
"events":[{"i":0.2,"p":0.428},{"i":35.1,"p":0.428},{"i":121.2,"p":0.428},{"i":157.8,"p":0.428},{"i":209.8,"p":0.428},{"i":273.9,"p":0.428},{"i":388,"p":0.428}]
},
"encoding":{"x":{"field":"i","type":"quantitative","title":null,
  "scale":{"type":"linear","domain":[0,588],"range":[0,2713],"nice":false,"zero":false,"padding":0},
  "axis":{"orient":"bottom","offset":-57,"values":[37,80,122,162,201,244,288,331,372,414,452,495,538,582],"labelExpr":"['Kas','2025','Mar','May','Tem','Eyl','Kas','2026','Mar','May','Tem','Eyl','Kas','2027'][indexof([37,80,122,162,201,244,288,331,372,414,452,495,538,582],datum.value)]","grid":false,"domain":false,"ticks":false,"labelPadding":32,"labelBaseline":"middle","labelFont":"Inter","labelFontSize":24,"labelColor":"#b2b5be","labelOverlap":false,"labelBound":false,"labelFlush":false,"labelFontWeight":{"condition":{"test":"indexof([80,331,582],datum.value)>=0","value":"bold"},"value":"normal"}}}},
"resolve":{"scale":{"y":"independent"}},
"layer":[
{"layer":[
 {"data":{"values":[{"i":0,"i2":588,"p":46},{"i":0,"i2":588,"p":38},{"i":0,"i2":588,"p":30},{"i":0,"i2":588,"p":24},{"i":0,"i2":588,"p":19},{"i":0,"i2":588,"p":15},{"i":0,"i2":588,"p":12},{"i":0,"i2":588,"p":9.5},{"i":0,"i2":588,"p":7.5},{"i":0,"i2":588,"p":6},{"i":0,"i2":588,"p":4.5},{"i":0,"i2":588,"p":3.7},{"i":0,"i2":588,"p":2.9},{"i":0,"i2":588,"p":2.4},{"i":0,"i2":588,"p":1.9},{"i":0,"i2":588,"p":1.5},{"i":0,"i2":588,"p":1.2},{"i":0,"i2":588,"p":0.95},{"i":0,"i2":588,"p":0.75},{"i":0,"i2":588,"p":0.61},{"i":0,"i2":588,"p":0.5},{"i":0,"i2":588,"p":0.41}]},
  "mark":{"type":"rule","color":"#252934","strokeWidth":2},
  "encoding":{"x2":{"field":"i2"},
   "y":{"field":"p","type":"quantitative","title":null,"scale":{"type":"log","domain":[0.3976,46.65],"range":[1551,0],"nice":false,"zero":false},
    "axis":{"orient":"right","offset":-128,"values":[46,38,30,24,19,15,12,9.5,7.5,6,4.5,3.7,2.9,2.4,1.9,1.5,1.2,0.95,0.75,0.61,0.5,0.41],"labelExpr":"datum.value>40?'':replace(format(datum.value,'.2f'),'.',',')","grid":false,"domain":false,"ticks":false,"labelPadding":19,"labelOffset":1,"labelFont":"Inter","labelFontSize":24,"labelColor":"#b2b5be","labelAlign":"left","labelOverlap":false,"labelBound":false,"labelFlush":false}}}},
 {"data":{"values":[{"i":37},{"i":80},{"i":122},{"i":162},{"i":201},{"i":244},{"i":288},{"i":331},{"i":372},{"i":414},{"i":452},{"i":495},{"i":538},{"i":582}]},
  "mark":{"type":"rule","color":"#252934","strokeWidth":2},
  "encoding":{"y":{"datum":46.65,"type":"quantitative"},"y2":{"datum":0.3976}}}
]},
{"data":{"name":"bars"},
 "mark":{"type":"rule","strokeWidth":2,"clip":true},
 "encoding":{"y":{"field":"v","type":"quantitative","scale":{"domain":[0,354.7],"range":[1551,0],"nice":false},"axis":null},"y2":{"datum":0},
  "color":{"condition":{"test":"datum.c<datum.o","value":"#93343d"},"value":"#1c6d68"}}},
{"layer":[
 {"data":{"values":[{"i":286.7,"p":6.557},{"i":421.1,"p":6.148}]},
  "mark":{"type":"line","color":"#04332b","strokeWidth":8,"strokeCap":"round"},
  "encoding":{"y":{"field":"p","type":"quantitative","scale":{"type":"log","domain":[0.3976,46.65],"range":[1551,0],"nice":false,"zero":false},"axis":null}}},
 {"data":{"name":"bars"},
  "mark":{"type":"rule","strokeWidth":2,"clip":true},
  "encoding":{"y":{"field":"h","type":"quantitative","scale":{"type":"log","domain":[0.3976,46.65],"range":[1551,0],"nice":false,"zero":false},"axis":null},"y2":{"field":"l"},
   "color":{"condition":{"test":"datum.c<datum.o","value":"#f23645"},"value":"#ffffff"}}},
 {"data":{"name":"bars"},
  "mark":{"type":"bar","orient":"vertical","size":3.4,"strokeWidth":0.6,"clip":true},
  "encoding":{"y":{"field":"o","type":"quantitative","scale":{"type":"log","domain":[0.3976,46.65],"range":[1551,0],"nice":false,"zero":false},"axis":null},"y2":{"field":"c"},
   "fill":{"condition":{"test":"datum.c<datum.o","value":"#f23645"},"value":"#ffffff"},
   "stroke":{"condition":{"test":"datum.c<datum.o","value":"#f23645"},"value":"#ffffff"}}},
 {"data":{"name":"events"},
  "mark":{"type":"point","shape":"M-.72 -1H.72A.28 .28 0 0 1 1 -.72V.72A.28 .28 0 0 1 .72 1H-.72A.28 .28 0 0 1 -1 .72V-.72A.28 .28 0 0 1 -.72 -1Z","size":1156,"filled":true,"fill":"#0f0f0f","stroke":"#b9b9b9","strokeWidth":3,"opacity":1,"clip":true},
  "encoding":{"y":{"field":"p","type":"quantitative","scale":{"type":"log","domain":[0.3976,46.65],"range":[1551,0],"nice":false,"zero":false},"axis":null}}},
 {"data":{"name":"events"},
  "mark":{"type":"text","text":"E","font":"Inter","fontSize":21,"fontWeight":"bold","color":"#e8e8e8","clip":true,"dy":1},
  "encoding":{"y":{"field":"p","type":"quantitative","scale":{"type":"log","domain":[0.3976,46.65],"range":[1551,0],"nice":false,"zero":false},"axis":null}}},
 {"data":{"values":[{"i":399.9,"p":0.428}]},
  "mark":{"type":"point","shape":"circle","size":1369,"filled":true,"fill":"#0f0f0f","stroke":"#ab40c0","strokeWidth":3.5,"opacity":1},
  "encoding":{"y":{"field":"p","type":"quantitative","scale":{"type":"log","domain":[0.3976,46.65],"range":[1551,0],"nice":false,"zero":false},"axis":null}}},
 {"data":{"values":[{"i":399.9,"p":0.428}]},
  "mark":{"type":"point","shape":"M.3 -1L-.5 .15H-.05L-.3 1L.5 -.2H.05Z","size":676,"filled":true,"fill":"#ab40c0","opacity":1},
  "encoding":{"y":{"field":"p","type":"quantitative","scale":{"type":"log","domain":[0.3976,46.65],"range":[1551,0],"nice":false,"zero":false},"axis":null}}},
 {"data":{"values":[{"i":408.3,"p":6.51}]},
  "mark":{"type":"point","shape":"M.18 -.64L1 -.64L-.91 .64Z","size":1936,"filled":true,"fill":"#2962ff","opacity":1},
  "encoding":{"y":{"field":"p","type":"quantitative","scale":{"type":"log","domain":[0.3976,46.65],"range":[1551,0],"nice":false,"zero":false},"axis":null}}},
 {"data":{"values":[{"i":404,"p":6.23}]},
  "mark":{"type":"point","shape":"circle","size":100,"filled":true,"fill":"#2962ff","stroke":"#131722","strokeWidth":3,"opacity":1},
  "encoding":{"y":{"field":"p","type":"quantitative","scale":{"type":"log","domain":[0.3976,46.65],"range":[1551,0],"nice":false,"zero":false},"axis":null}}},
 {"data":{"values":[{"i":407.5,"i2":431,"p":7.97,"p2":6.795}]},
  "mark":{"type":"rect","fill":"#2962ff","cornerRadius":7},
  "encoding":{"y":{"field":"p","type":"quantitative","scale":{"type":"log","domain":[0.3976,46.65],"range":[1551,0],"nice":false,"zero":false},"axis":null},"x2":{"field":"i2"},"y2":{"field":"p2"}}},
 {"data":{"values":[{"i":589.7,"i2":614,"p":45.56,"p2":38.8}]},
  "mark":{"type":"rect","fill":"#0f0f0f","stroke":"#363a45","strokeWidth":1.5,"cornerRadius":10},
  "encoding":{"y":{"field":"p","type":"quantitative","scale":{"type":"log","domain":[0.3976,46.65],"range":[1551,0],"nice":false,"zero":false},"axis":null},"x2":{"field":"i2"},"y2":{"field":"p2"}}},
 {"data":{"values":[{"i":588.6,"i2":605.8,"p":6.67,"p2":6.05}]},
  "mark":{"type":"rect","fill":"#ffffff","cornerRadius":3},
  "encoding":{"y":{"field":"p","type":"quantitative","scale":{"type":"log","domain":[0.3976,46.65],"range":[1551,0],"nice":false,"zero":false},"axis":null},"x2":{"field":"i2"},"y2":{"field":"p2"}}},
 {"data":{"values":[{"i":588.6,"i2":614.1,"p":0.561,"p2":0.5057}]},
  "mark":{"type":"rect","fill":"#26a69a","cornerRadius":3},
  "encoding":{"y":{"field":"p","type":"quantitative","scale":{"type":"log","domain":[0.3976,46.65],"range":[1551,0],"nice":false,"zero":false},"axis":null},"x2":{"field":"i2"},"y2":{"field":"p2"}}},
 {"data":{"name":"labels"},
  "mark":{"type":"text","align":"left","baseline":"middle","font":"Inter","fontSize":24,"dy":1},
  "encoding":{"y":{"field":"p","type":"quantitative","scale":{"type":"log","domain":[0.3976,46.65],"range":[1551,0],"nice":false,"zero":false},"axis":null},"text":{"field":"label"},
   "color":{"field":"kind","type":"nominal","legend":null,"scale":{"domain":["name","value","volume","try"],"range":["#b2b5be","#ffffff","#26a69a","#dcdcdc"]}}}},
 {"data":{"values":[{"i":597.8,"p":6.35,"label":"6,35"}]},
  "mark":{"type":"text","align":"center","baseline":"middle","font":"Inter","fontSize":23,"color":"#131722","dy":1},
  "encoding":{"y":{"field":"p","type":"quantitative","scale":{"type":"log","domain":[0.3976,46.65],"range":[1551,0],"nice":false,"zero":false},"axis":null},"text":{"field":"label"}}},
 {"data":{"values":[{"i":602,"p":0.532,"label":"21,73 M"}]},
  "mark":{"type":"text","align":"center","baseline":"middle","font":"Inter","fontSize":24,"color":"#ffffff","dy":1},
  "encoding":{"y":{"field":"p","type":"quantitative","scale":{"type":"log","domain":[0.3976,46.65],"range":[1551,0],"nice":false,"zero":false},"axis":null},"text":{"field":"label"}}},
 {"data":{"values":[{"i":419.2,"p":7.41,"label":"6,23"}]},
  "mark":{"type":"text","align":"center","baseline":"middle","font":"Inter","fontSize":27,"fontWeight":600,"color":"#ffffff","dy":2},
  "encoding":{"y":{"field":"p","type":"quantitative","scale":{"type":"log","domain":[0.3976,46.65],"range":[1551,0],"nice":false,"zero":false},"axis":null},"text":{"field":"label"}}},
 {"data":{"values":[{"i":7,"p":0.275}]},
  "mark":{"type":"point","shape":"M-1 -.52H-.22V.52H-.6V-.14H-1ZM-.14 -.33A.19 .19 0 1 0 .24 -.33A.19 .19 0 1 0 -.14 -.33ZM.52 -.52H1L.57 .52H.1Z","size":3969,"filled":true,"fill":"#d9d9d9","opacity":1},
  "encoding":{"y":{"field":"p","type":"quantitative","scale":{"type":"log","domain":[0.3976,46.65],"range":[1551,0],"nice":false,"zero":false},"axis":null}}},
 {"data":{"values":[{"i":16.5,"p":0.275,"label":"TradingView"}]},
  "mark":{"type":"text","align":"left","baseline":"middle","font":"Inter","fontSize":40,"fontWeight":600,"color":"#d9d9d9"},
  "encoding":{"y":{"field":"p","type":"quantitative","scale":{"type":"log","domain":[0.3976,46.65],"range":[1551,0],"nice":false,"zero":false},"axis":null},"text":{"field":"label"}}}
]}
]}
